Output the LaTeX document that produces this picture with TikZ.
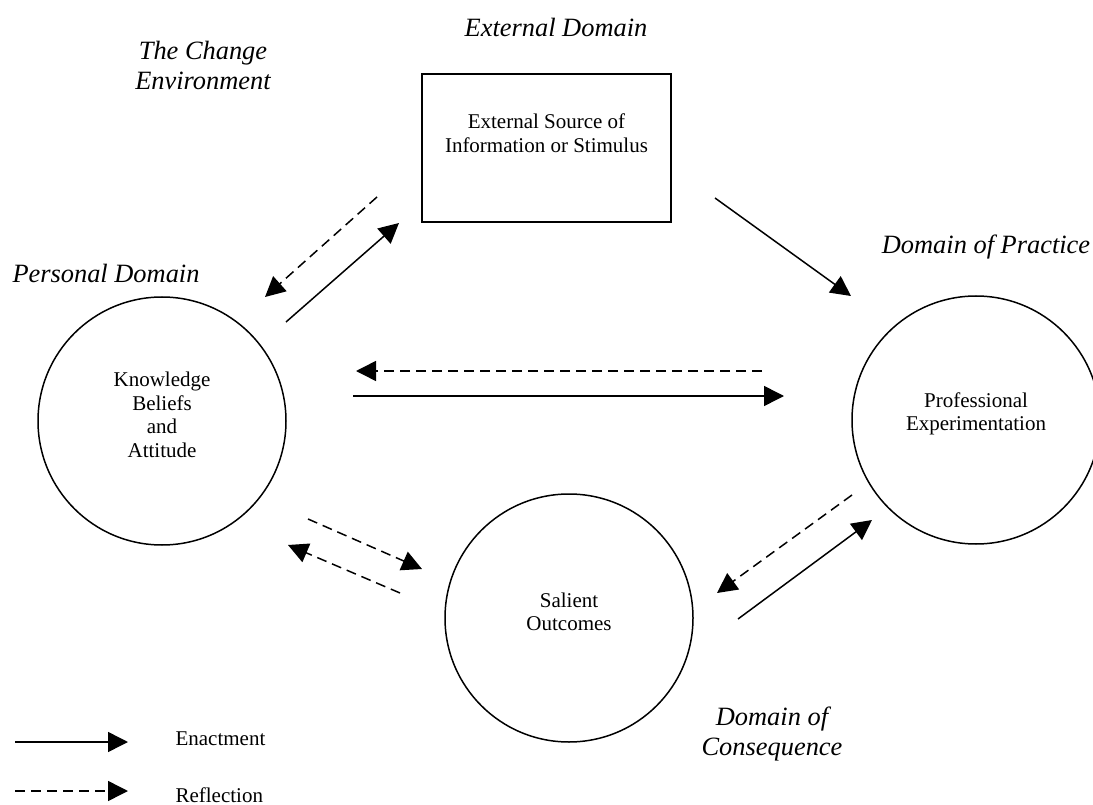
\documentclass[tikz,border=0pt]{standalone}
\usepackage{fontspec}
\setmainfont{Liberation Serif}
\usetikzlibrary{arrows.meta}
\begin{document}
\begin{tikzpicture}[x=1pt,y=-1pt,
  enact/.style={line width=1.5pt,-{Triangle[length=20pt,width=20pt]}},
  reflect/.style={enact,dash pattern=on 10pt off 6pt},
  domcirc/.style={draw,circle,line width=1.5pt,minimum size=248pt,inner sep=0pt},
  intext/.style={align=center,font=\fontsize{21}{23.5}\selectfont},
  domlab/.style={align=center,font=\fontsize{26.4}{30}\selectfont\itshape}]
\useasboundingbox (0,0) rectangle (1093,805);
% domains
\node[domcirc] (kba) at (162,421) {};
\node[intext] (kbat) at (162,415) {Knowledge\\Beliefs\\and\\Attitude};
\node[domcirc] (pe) at (976,420) {};
\node[intext] (pet) at (976,414) {Professional\\Experimentation};
\node[domcirc] (so) at (569,618) {};
\node[intext] (sot) at (569,612) {Salient\\Outcomes};
\node[draw,line width=1.5pt,minimum width=249pt,minimum height=148pt,inner sep=0pt] (ext) at (546.5,148) {};
\node[intext] (extt) at (546.5,133) {External Source of\\Information or Stimulus};
% labels
\node[domlab] (extd) at (556,27) {External Domain};
\node[domlab] (chg) at (203,65) {The Change\\Environment};
\node[domlab] (pd) at (106,273) {Personal Domain};
\node[domlab] (dp) at (986,247) {Domain of Practice};
\node[domlab] (dc) at (772,734) {Domain of\\Consequence};
% connector ends
\coordinate (a1s) at (377,197); \coordinate (a1e) at (265,297);
\coordinate (a2s) at (286,322); \coordinate (a2e) at (399,223);
\coordinate (a3s) at (715,198); \coordinate (a3e) at (851,296);
\coordinate (a4s) at (762,371); \coordinate (a4e) at (356,371);
\coordinate (a5s) at (353,396); \coordinate (a5e) at (784,396);
\coordinate (a6s) at (308,519); \coordinate (a6e) at (422,569);
\coordinate (a7s) at (400,593); \coordinate (a7e) at (288,545);
\coordinate (a8s) at (852,495); \coordinate (a8e) at (717,593);
\coordinate (a9s) at (738,619); \coordinate (a9e) at (872,520);
\draw[reflect] (a1s) -- (a1e);
\draw[enact] (a2s) -- (a2e);
\draw[enact] (a3s) -- (a3e);
\draw[reflect] (a4s) -- (a4e);
\draw[enact] (a5s) -- (a5e);
\draw[reflect] (a6s) -- (a6e);
\draw[reflect] (a7s) -- (a7e);
\draw[reflect] (a8s) -- (a8e);
\draw[enact] (a9s) -- (a9e);
% legend
\coordinate (l1s) at (15,742); \coordinate (l1e) at (128,742);
\coordinate (l2s) at (15,791); \coordinate (l2e) at (128,791);
\draw[enact] (l1s) -- (l1e);
\draw[reflect] (l2s) -- (l2e);
\node[intext,anchor=west] (len) at (172,739) {Enactment};
\node[intext,anchor=west] (lre) at (172,795) {Reflection};
\end{tikzpicture}
\end{document}
